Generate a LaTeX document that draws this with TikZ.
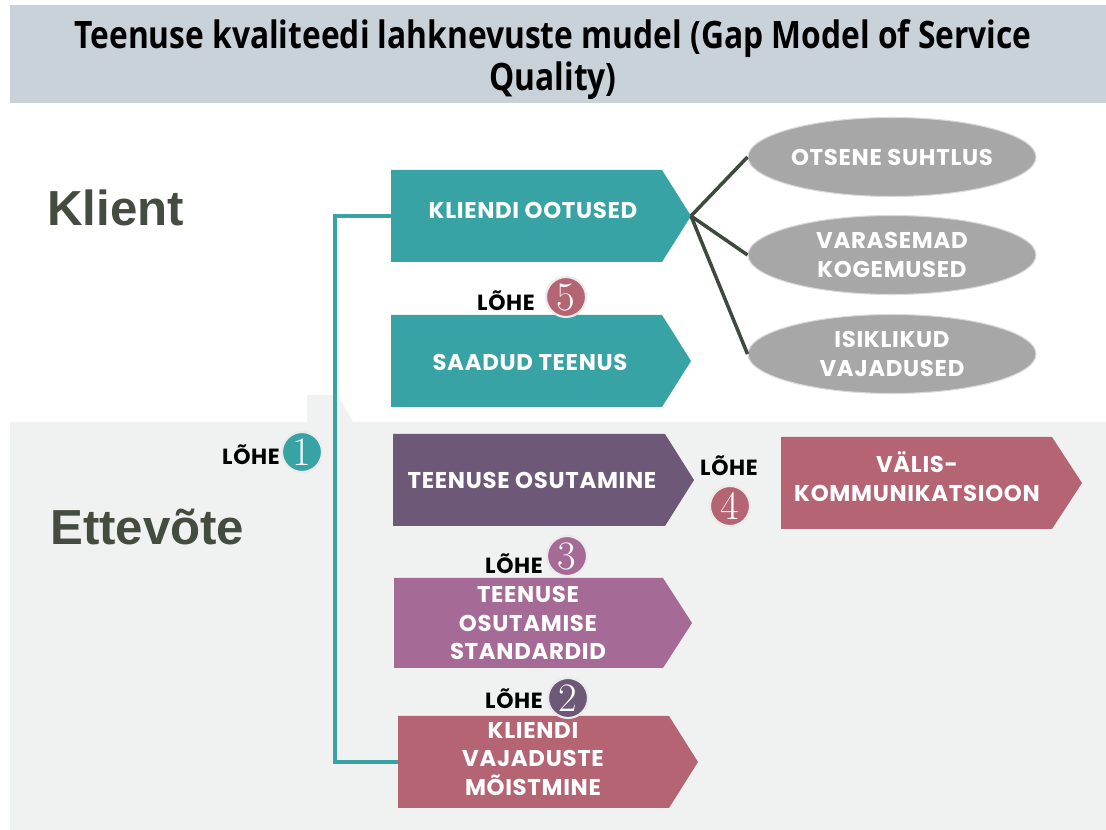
\documentclass[tikz,border=0pt]{standalone}
\usepackage{fontspec}
\usetikzlibrary{shapes.geometric}
\newfontfamily\boxfont[LetterSpace=3]{Poppins}
\newfontfamily\titlefont[FakeStretch=0.84]{Open Sans}
\newfontfamily\headfont{Liberation Sans}

\definecolor{bandgray}{HTML}{C9D1D9}
\definecolor{lightbg}{HTML}{F0F1F1}
\definecolor{tealc}{HTML}{38A3A5}
\definecolor{purplec}{HTML}{6D5878}
\definecolor{mauvec}{HTML}{A66A97}
\definecolor{rosec}{HTML}{B56473}
\definecolor{ovalgray}{HTML}{A7A7A7}
\definecolor{linkc}{HTML}{3E4A3E}
\definecolor{headc}{HTML}{434C3F}

\tikzset{
  titletext/.style={font=\titlefont\bfseries\fontsize{21.5}{23.8}\selectfont, align=center, text=black},
  headtext/.style={font=\headfont\bfseries\fontsize{28}{32}\selectfont, text=headc, anchor=west},
  boxtext/.style={font=\boxfont\bfseries\fontsize{13}{16.4}\selectfont, text=white, align=center, inner sep=0pt},
  gaplabel/.style={font=\boxfont\bfseries\fontsize{12.5}{14}\selectfont, text=black, inner sep=0pt},
  gapnum/.style={circle, minimum size=0.8cm, inner sep=0pt, text=white, font=\fontsize{23}{23}\selectfont, draw=white!92!black, line width=1.2pt},
  oval/.style={ellipse, fill=ovalgray, draw=white!85!black, line width=0.6pt, minimum width=5.76cm, minimum height=1.58cm, inner sep=0pt, text=white, font=\boxfont\bfseries\fontsize{13}{16.4}\selectfont, align=center},
  tealline/.style={draw=tealc, line width=2.2pt},
  linkline/.style={draw=linkc, line width=2pt},
}

\begin{document}
\begin{tikzpicture}[x=0.02cm, y=-0.02cm]
\useasboundingbox (0,0) rectangle (1106,830);
\fill[white] (0,0) rectangle (1106,830);

% title band
\fill[bandgray] (10,5) rectangle (1106,103);
\node[titletext] (title) at (553,60) {Teenuse kvaliteedi lahknevuste mudel (Gap Model of Service\\Quality)};

% company area background
\fill[lightbg] (10,422) -- (307,422) -- (307,395) -- (338,395) -- (353,422)
  -- (1106,422) -- (1106,830) -- (10,830) -- cycle;

% side headings
\node[headtext] (klient) at (41,208) {Klient};
\node[headtext] (ettevote) at (44,527) {Ettevõte};

% arrow boxes
\fill[tealc] (391,170) -- (662,170) -- (691,216) -- (662,262) -- (391,262) -- cycle;
\coordinate (ko-w) at (391,216);
\coordinate (ko-e) at (691,216);
\node[boxtext] (ko) at (533,210) {KLIENDI OOTUSED};

\fill[tealc] (391,315) -- (662,315) -- (691,361) -- (662,407) -- (391,407) -- cycle;
\node[boxtext] (st) at (530,362) {SAADUD TEENUS};

\fill[purplec] (393,434) -- (665,434) -- (694,480) -- (665,526) -- (393,526) -- cycle;
\node[boxtext] (to) at (532,480) {TEENUSE OSUTAMINE};

\fill[rosec] (781,437) -- (1052,437) -- (1082,483) -- (1052,529) -- (781,529) -- cycle;
\node[boxtext] (vk) at (917,477) {VÄLIS-\\KOMMUNIKATSIOON};

\fill[mauvec] (394,578) -- (663,578) -- (692,623) -- (663,668) -- (394,668) -- cycle;
\node[boxtext] (tos) at (528,623) {TEENUSE\\OSUTAMISE\\STANDARDID};

\fill[rosec] (398,716) -- (669,716) -- (698,762) -- (669,808) -- (398,808) -- cycle;
\coordinate (kv-w) at (398,762);
\node[boxtext] (kv) at (533,759) {KLIENDI\\VAJADUSTE\\MÕISTMINE};

% customer-side factors
\node[oval] (o1) at (892,157) {OTSENE SUHTLUS};
\node[oval] (o2) at (892,255) {VARASEMAD\\KOGEMUSED};
\node[oval] (o3) at (892,354) {ISIKLIKUD\\VAJADUSED};

\draw[linkline] (ko-e) -- (o1.west);
\draw[linkline] (ko-e) -- (o2.west);
\draw[linkline] (ko-e) -- (o3.west);

% gap 1 bracket
\draw[tealline] (ko-w) -- (335,216) -- (335,762) -- (kv-w);

% gap markers
\node[gaplabel] (l1) at (251,455) {LÕHE};
\node[gapnum, fill=tealc] (n1) at (302,452) {1};

\node[gaplabel] (l2) at (514,699) {LÕHE};
\node[gapnum, fill=purplec] (n2) at (568,698) {2};

\node[gaplabel] (l3) at (514,564) {LÕHE};
\node[gapnum, fill=mauvec] (n3) at (567,556) {3};

\node[gaplabel] (l4) at (729,466) {LÕHE};
\node[gapnum, fill=rosec] (n4) at (730,506) {4};

\node[gaplabel] (l5) at (506,301) {LÕHE};
\node[gapnum, fill=rosec] (n5) at (566,297) {5};
\end{tikzpicture}
\end{document}
